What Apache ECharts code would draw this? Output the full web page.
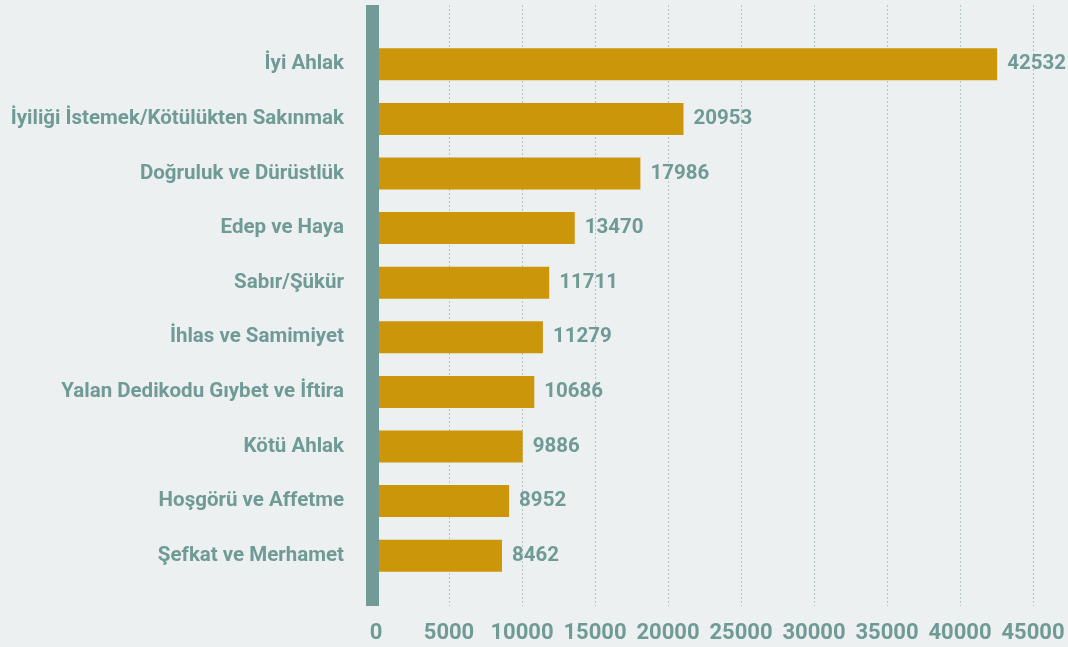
<!DOCTYPE html>
<html>
<head>
<meta charset="utf-8">
<script src="https://cdn.jsdelivr.net/npm/echarts@6/dist/echarts.min.js"></script>
<style>
  html, body { margin: 0; padding: 0; background: #ecf0f1; }
  #chart { width: 1068px; height: 647px; }
</style>
</head>
<body>
<div id="chart"></div>
<script>
  // kategoriler ve değerler
  const categories = [
    'İyi Ahlak',
    'İyiliği İstemek/Kötülükten Sakınmak',
    'Doğruluk ve Dürüstlük',
    'Edep ve Haya',
    'Sabır/Şükür',
    'İhlas ve Samimiyet',
    'Yalan Dedikodu Gıybet ve İftira',
    'Kötü Ahlak',
    'Hoşgörü ve Affetme',
    'Şefkat ve Merhamet'
  ];
  const values = [42532, 20953, 17986, 13470, 11711, 11279, 10686, 9886, 8952, 8462];
  const xMin = 0;
  const xMax = 45000;
  const xStep = 5000;

  const textColor = '#6f9a96';
  const font = 'Roboto';

  const chart = echarts.init(document.getElementById('chart'));
  const option = {
    backgroundColor: '#ecf0f1',
    animation: false,
    grid: [
      // eksen çizgisi ve ızgara için
      { left: 376, right: 35, top: 5, bottom: 41 },
      // çubuklar için
      { left: 379, right: 35, top: 37, bottom: 64 }
    ],
    xAxis: [
      {
        gridIndex: 0,
        type: 'value',
        min: xMin,
        max: xMax,
        interval: xStep,
        axisLine: { show: false },
        axisTick: { show: false },
        axisLabel: {
          color: textColor,
          fontFamily: font,
          fontWeight: 'bold',
          fontSize: 22,
          margin: 16,
          formatter: function (v) { return String(v); }
        },
        splitLine: {
          show: true,
          lineStyle: { color: '#b4c6c4', width: 1, type: [2, 2] }
        }
      },
      {
        gridIndex: 1,
        type: 'value',
        min: xMin,
        max: xMax,
        show: false
      }
    ],
    yAxis: [
      {
        gridIndex: 0,
        type: 'value',
        min: 0,
        max: 1,
        offset: 4,
        z: 10,
        axisLine: { show: true, onZero: false, lineStyle: { color: '#729a96', width: 13, cap: 'butt' } },
        axisTick: { show: false },
        axisLabel: { show: false },
        splitLine: { show: false }
      },
      {
        gridIndex: 1,
        type: 'category',
        inverse: true,
        data: categories,
        axisLine: { show: false },
        axisTick: { show: false },
        axisLabel: {
          color: textColor,
          fontFamily: font,
          fontWeight: 'bold',
          fontSize: 20.5,
          margin: 35
        }
      }
    ],
    series: [
      {
        type: 'bar',
        xAxisIndex: 1,
        yAxisIndex: 1,
        data: values,
        barWidth: 32,
        z: 3,
        itemStyle: { color: '#cc960a' },
        label: {
          show: true,
          position: 'right',
          distance: 10,
          color: textColor,
          fontFamily: font,
          fontWeight: 'bold',
          fontSize: 20.5
        }
      }
    ]
  };
  chart.setOption(option);
</script>
</body>
</html>
